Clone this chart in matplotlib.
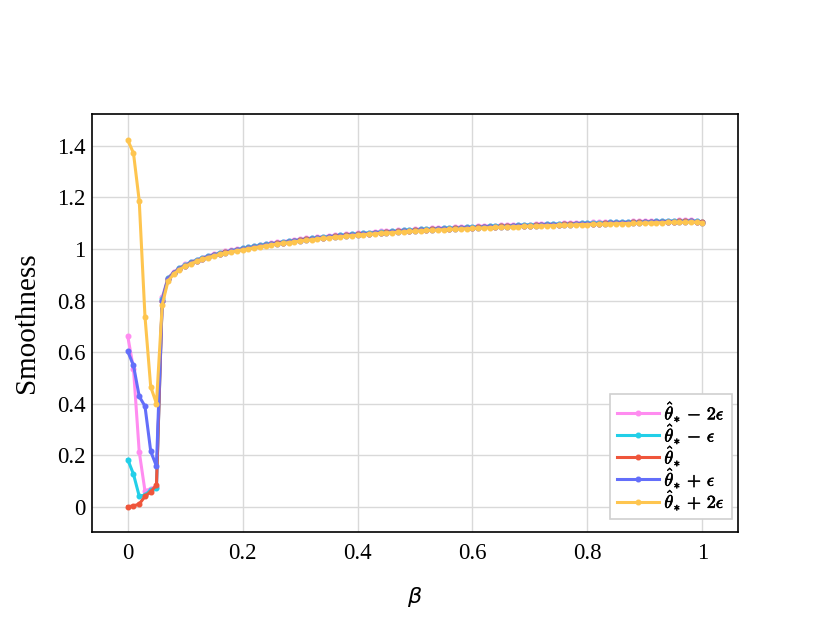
import numpy as np
import matplotlib
matplotlib.use("Agg")
import matplotlib.pyplot as plt
import matplotlib.patheffects as pe
from matplotlib.font_manager import FontProperties

beta = np.arange(101) / 100.0

labels = [r"${\hat{\theta}}_{*} \,-\, 2\epsilon$", r"${\hat{\theta}}_{*} \,-\, \epsilon$", r"${\hat{\theta}}_{*}$",
          r"${\hat{\theta}}_{*} \,+\, \epsilon$", r"${\hat{\theta}}_{*} \,+\, 2\epsilon$"]
colors = ["#ff8cf0", "#22cfe8", "#ef553b", "#636efa", "#fec54f"]

s_m2 = [0.662, 0.535, 0.213, 0.061, 0.070, 0.078, 0.812, 0.888,
        0.910, 0.927, 0.940, 0.950, 0.959, 0.967, 0.974, 0.980, 0.986, 0.991, 0.996, 1.000, 1.004,
        1.008, 1.012, 1.016, 1.020, 1.023, 1.026, 1.029, 1.032, 1.035, 1.038,
        1.041, 1.043, 1.046, 1.048, 1.050, 1.053, 1.055, 1.057, 1.059, 1.061,
        1.063, 1.064, 1.066, 1.068, 1.069, 1.071, 1.072, 1.074, 1.075, 1.076,
        1.078, 1.079, 1.080, 1.081, 1.082, 1.083, 1.084, 1.085, 1.086, 1.087,
        1.088, 1.089, 1.090, 1.091, 1.092, 1.092, 1.093, 1.094, 1.095, 1.095,
        1.096, 1.097, 1.098, 1.098, 1.099, 1.100, 1.100, 1.101, 1.102, 1.102,
        1.103, 1.103, 1.104, 1.105, 1.105, 1.106, 1.106, 1.107, 1.107, 1.108,
        1.108, 1.109, 1.109, 1.110, 1.110, 1.111, 1.111, 1.112, 1.110, 1.104]

s_m1 = [0.183, 0.126, 0.041, 0.045, 0.065, 0.074, 0.805, 0.886,
        0.908, 0.925, 0.938, 0.948, 0.957, 0.965, 0.972, 0.978, 0.984, 0.989, 0.994, 0.998, 1.002,
        1.006, 1.010, 1.014, 1.018, 1.021, 1.024, 1.027, 1.030, 1.033, 1.036,
        1.039, 1.041, 1.044, 1.046, 1.048, 1.051, 1.053, 1.055, 1.057, 1.059,
        1.061, 1.062, 1.064, 1.066, 1.067, 1.069, 1.070, 1.072, 1.073, 1.074,
        1.076, 1.077, 1.078, 1.079, 1.080, 1.081, 1.082, 1.083, 1.084, 1.085,
        1.086, 1.087, 1.088, 1.089, 1.090, 1.090, 1.091, 1.092, 1.093, 1.093,
        1.094, 1.095, 1.096, 1.096, 1.097, 1.098, 1.098, 1.099, 1.100, 1.100,
        1.101, 1.101, 1.102, 1.103, 1.103, 1.104, 1.104, 1.105, 1.105, 1.106,
        1.106, 1.107, 1.107, 1.108, 1.108, 1.109, 1.109, 1.110, 1.108, 1.103]

s_0 = [0.000, 0.003, 0.010, 0.040, 0.058, 0.084, 0.800, 0.884,
       0.906, 0.923, 0.936, 0.946, 0.955, 0.963, 0.970, 0.976, 0.982, 0.987, 0.992, 0.996, 1.000,
       1.004, 1.008, 1.012, 1.016, 1.019, 1.022, 1.025, 1.028, 1.031, 1.034,
       1.037, 1.039, 1.042, 1.044, 1.046, 1.049, 1.051, 1.053, 1.055, 1.057,
       1.059, 1.060, 1.062, 1.064, 1.065, 1.067, 1.068, 1.070, 1.071, 1.072,
       1.074, 1.075, 1.076, 1.077, 1.078, 1.079, 1.080, 1.081, 1.082, 1.083,
       1.084, 1.085, 1.086, 1.087, 1.088, 1.088, 1.089, 1.090, 1.091, 1.091,
       1.092, 1.093, 1.094, 1.094, 1.095, 1.096, 1.096, 1.097, 1.098, 1.098,
       1.099, 1.099, 1.100, 1.101, 1.101, 1.102, 1.102, 1.103, 1.103, 1.104,
       1.104, 1.105, 1.105, 1.106, 1.106, 1.107, 1.107, 1.108, 1.106, 1.103]

s_p1 = [0.603, 0.548, 0.428, 0.390, 0.215, 0.157, 0.798, 0.882,
        0.905, 0.922, 0.935, 0.945, 0.954, 0.962, 0.969, 0.975, 0.981, 0.986, 0.991, 0.995, 0.999,
        1.003, 1.007, 1.011, 1.015, 1.018, 1.021, 1.024, 1.027, 1.030, 1.033,
        1.036, 1.038, 1.041, 1.043, 1.045, 1.048, 1.050, 1.052, 1.054, 1.056,
        1.058, 1.059, 1.061, 1.063, 1.064, 1.066, 1.067, 1.069, 1.070, 1.071,
        1.073, 1.074, 1.075, 1.076, 1.077, 1.078, 1.079, 1.080, 1.081, 1.082,
        1.083, 1.084, 1.085, 1.086, 1.087, 1.087, 1.088, 1.089, 1.090, 1.090,
        1.091, 1.092, 1.093, 1.093, 1.094, 1.095, 1.095, 1.096, 1.097, 1.097,
        1.098, 1.098, 1.099, 1.100, 1.100, 1.101, 1.101, 1.102, 1.102, 1.103,
        1.103, 1.104, 1.104, 1.105, 1.105, 1.106, 1.106, 1.107, 1.105, 1.102]

s_p2 = [1.423, 1.372, 1.187, 0.738, 0.465, 0.400, 0.783, 0.875,
        0.903, 0.920, 0.933, 0.943, 0.952, 0.960, 0.967, 0.973, 0.979, 0.984, 0.989, 0.993, 0.997,
        1.001, 1.005, 1.009, 1.013, 1.016, 1.019, 1.022, 1.025, 1.028, 1.031,
        1.034, 1.036, 1.039, 1.041, 1.043, 1.046, 1.048, 1.050, 1.052, 1.054,
        1.056, 1.057, 1.059, 1.061, 1.062, 1.064, 1.065, 1.067, 1.068, 1.069,
        1.071, 1.072, 1.073, 1.074, 1.075, 1.076, 1.077, 1.078, 1.079, 1.080,
        1.081, 1.082, 1.083, 1.084, 1.085, 1.085, 1.086, 1.087, 1.088, 1.088,
        1.089, 1.090, 1.091, 1.091, 1.092, 1.093, 1.093, 1.094, 1.095, 1.095,
        1.096, 1.096, 1.097, 1.098, 1.098, 1.099, 1.099, 1.100, 1.100, 1.101,
        1.101, 1.102, 1.102, 1.103, 1.103, 1.104, 1.104, 1.105, 1.104, 1.102]

series = [s_m2, s_m1, s_0, s_p1, s_p2]

xticks = [0, 0.2, 0.4, 0.6, 0.8, 1.0]
xticklabels = ["0", "0.2", "0.4", "0.6", "0.8", "1"]
yticks = [0, 0.2, 0.4, 0.6, 0.8, 1.0, 1.2, 1.4]
yticklabels = ["0", "0.2", "0.4", "0.6", "0.8", "1", "1.2", "1.4"]

plt.rcParams["font.family"] = ["Liberation Serif", "DejaVu Serif"]

fig = plt.figure(figsize=(8.3, 6.23), dpi=100)
ax = fig.add_axes([0.1105, 0.1466, 0.779, 0.67])

for ys, c, lab in zip(series, colors, labels):
    ax.plot(beta, ys, color=c, lw=2.2, marker="o", ms=3.3, label=lab)

ax.set_xlim(-0.0627, 1.0627)
ax.set_ylim(-0.097, 1.523)
ax.set_xticks(xticks)
ax.set_xticklabels(xticklabels)
ax.set_yticks(yticks)
ax.set_yticklabels(yticklabels)
ax.tick_params(axis="both", length=0, labelsize=16.5)
ax.tick_params(axis="y", pad=4.5)
ax.tick_params(axis="x", pad=8)
ax.grid(True, color="#d9d9d9", lw=1)
ax.set_axisbelow(True)
for sp in ax.spines.values():
    sp.set_color("black")
    sp.set_linewidth(1.2)

ax.set_ylabel("Smoothness", fontsize=21, labelpad=12)
ax.set_xlabel(r"$\beta$", labelpad=15,
              fontproperties=FontProperties(size=16, math_fontfamily="dejavusans"))

leg = ax.legend(loc="lower right", bbox_to_anchor=(0.99, 0.03), borderaxespad=0,
                prop=FontProperties(size=13, math_fontfamily="cm"),
                fancybox=False, framealpha=1, edgecolor="#d0d0d0",
                handlelength=2.3, handletextpad=0.3, labelspacing=0.0, borderpad=0.4)
leg.get_frame().set_linewidth(1.2)
for t in leg.get_texts():
    t.set_path_effects([pe.withStroke(linewidth=0.45, foreground="black")])

fig.savefig("out.png", dpi=100)
